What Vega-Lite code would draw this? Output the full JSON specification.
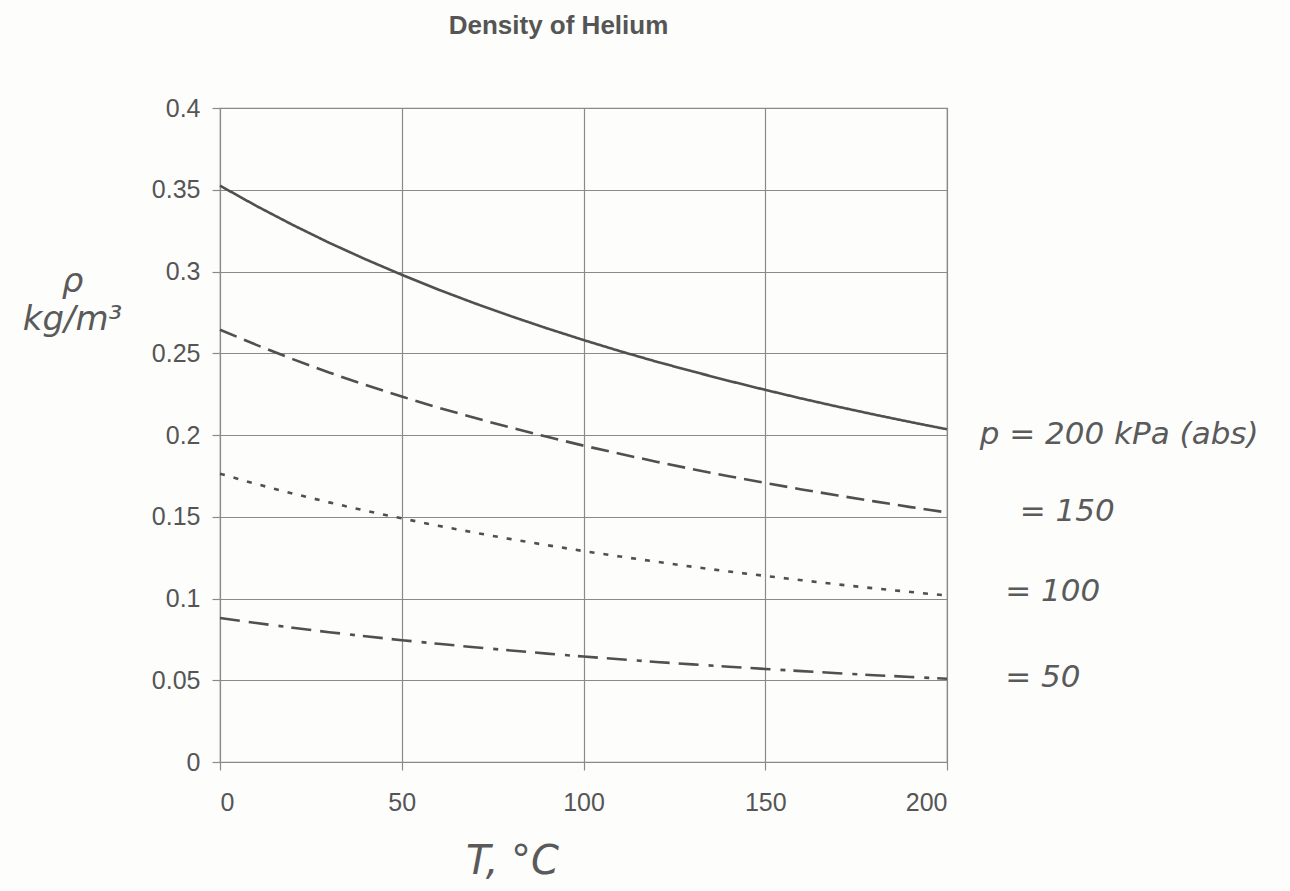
{
  "$schema": "https://vega.github.io/schema/vega-lite/v6.json",
  "autosize": "none",
  "width": 727,
  "height": 654,
  "padding": {"left": 220, "top": 108, "right": 343, "bottom": 129},
  "background": "#fdfdfc",
  "title": {
    "text": "Density of Helium",
    "font": "Liberation Sans",
    "fontSize": 26,
    "fontWeight": "bold",
    "color": "#555555",
    "anchor": "middle",
    "dx": -25,
    "offset": 57
  },
  "config": {
    "view": {"stroke": "#8a8a8a", "strokeWidth": 1.2},
    "axis": {
      "labelFont": "Liberation Sans",
      "labelFontSize": 25,
      "labelColor": "#555555",
      "gridColor": "#8a8a8a",
      "gridOpacity": 1,
      "gridWidth": 1.2,
      "tickColor": "#8a8a8a",
      "tickWidth": 1.2,
      "tickSize": 8,
      "domain": false,
      "titleFont": "DejaVu Sans",
      "titleFontStyle": "italic",
      "titleFontWeight": "normal",
      "titleColor": "#5a5a5a"
    }
  },
  "datasets": {
    "curves": [
      {"T": 0, "rho": 0.3525, "p": "200"}, {"T": 10, "rho": 0.3401, "p": "200"}, {"T": 20, "rho": 0.3285, "p": "200"}, {"T": 30, "rho": 0.3176, "p": "200"}, {"T": 40, "rho": 0.3075, "p": "200"}, {"T": 50, "rho": 0.2980, "p": "200"}, {"T": 60, "rho": 0.2890, "p": "200"}, {"T": 70, "rho": 0.2806, "p": "200"}, {"T": 80, "rho": 0.2727, "p": "200"}, {"T": 90, "rho": 0.2652, "p": "200"}, {"T": 100, "rho": 0.2581, "p": "200"}, {"T": 110, "rho": 0.2513, "p": "200"}, {"T": 120, "rho": 0.2449, "p": "200"}, {"T": 130, "rho": 0.2389, "p": "200"}, {"T": 140, "rho": 0.2331, "p": "200"}, {"T": 150, "rho": 0.2276, "p": "200"}, {"T": 160, "rho": 0.2223, "p": "200"}, {"T": 170, "rho": 0.2173, "p": "200"}, {"T": 180, "rho": 0.2125, "p": "200"}, {"T": 190, "rho": 0.2079, "p": "200"}, {"T": 200, "rho": 0.2035, "p": "200"},
      {"T": 0, "rho": 0.2644, "p": "150"}, {"T": 10, "rho": 0.2551, "p": "150"}, {"T": 20, "rho": 0.2464, "p": "150"}, {"T": 30, "rho": 0.2382, "p": "150"}, {"T": 40, "rho": 0.2306, "p": "150"}, {"T": 50, "rho": 0.2235, "p": "150"}, {"T": 60, "rho": 0.2168, "p": "150"}, {"T": 70, "rho": 0.2105, "p": "150"}, {"T": 80, "rho": 0.2045, "p": "150"}, {"T": 90, "rho": 0.1989, "p": "150"}, {"T": 100, "rho": 0.1935, "p": "150"}, {"T": 110, "rho": 0.1885, "p": "150"}, {"T": 120, "rho": 0.1837, "p": "150"}, {"T": 130, "rho": 0.1791, "p": "150"}, {"T": 140, "rho": 0.1748, "p": "150"}, {"T": 150, "rho": 0.1707, "p": "150"}, {"T": 160, "rho": 0.1667, "p": "150"}, {"T": 170, "rho": 0.1630, "p": "150"}, {"T": 180, "rho": 0.1594, "p": "150"}, {"T": 190, "rho": 0.1559, "p": "150"}, {"T": 200, "rho": 0.1526, "p": "150"},
      {"T": 0, "rho": 0.1763, "p": "100"}, {"T": 10, "rho": 0.1700, "p": "100"}, {"T": 20, "rho": 0.1642, "p": "100"}, {"T": 30, "rho": 0.1588, "p": "100"}, {"T": 40, "rho": 0.1537, "p": "100"}, {"T": 50, "rho": 0.1490, "p": "100"}, {"T": 60, "rho": 0.1445, "p": "100"}, {"T": 70, "rho": 0.1403, "p": "100"}, {"T": 80, "rho": 0.1363, "p": "100"}, {"T": 90, "rho": 0.1326, "p": "100"}, {"T": 100, "rho": 0.1290, "p": "100"}, {"T": 110, "rho": 0.1257, "p": "100"}, {"T": 120, "rho": 0.1225, "p": "100"}, {"T": 130, "rho": 0.1194, "p": "100"}, {"T": 140, "rho": 0.1165, "p": "100"}, {"T": 150, "rho": 0.1138, "p": "100"}, {"T": 160, "rho": 0.1112, "p": "100"}, {"T": 170, "rho": 0.1086, "p": "100"}, {"T": 180, "rho": 0.1062, "p": "100"}, {"T": 190, "rho": 0.1040, "p": "100"}, {"T": 200, "rho": 0.1018, "p": "100"},
      {"T": 0, "rho": 0.0881, "p": "50"}, {"T": 10, "rho": 0.0850, "p": "50"}, {"T": 20, "rho": 0.0821, "p": "50"}, {"T": 30, "rho": 0.0794, "p": "50"}, {"T": 40, "rho": 0.0769, "p": "50"}, {"T": 50, "rho": 0.0745, "p": "50"}, {"T": 60, "rho": 0.0723, "p": "50"}, {"T": 70, "rho": 0.0702, "p": "50"}, {"T": 80, "rho": 0.0682, "p": "50"}, {"T": 90, "rho": 0.0663, "p": "50"}, {"T": 100, "rho": 0.0645, "p": "50"}, {"T": 110, "rho": 0.0628, "p": "50"}, {"T": 120, "rho": 0.0612, "p": "50"}, {"T": 130, "rho": 0.0597, "p": "50"}, {"T": 140, "rho": 0.0583, "p": "50"}, {"T": 150, "rho": 0.0569, "p": "50"}, {"T": 160, "rho": 0.0556, "p": "50"}, {"T": 170, "rho": 0.0543, "p": "50"}, {"T": 180, "rho": 0.0531, "p": "50"}, {"T": 190, "rho": 0.0520, "p": "50"}, {"T": 200, "rho": 0.0509, "p": "50"}
    ],
    "notes": [
      {"T": 209, "rho": 0.2, "label": "p = 200 kPa (abs)"},
      {"T": 220, "rho": 0.153, "label": "= 150"},
      {"T": 216, "rho": 0.104, "label": "= 100"},
      {"T": 216, "rho": 0.0514, "label": "= 50"}
    ]
  },
  "layer": [
    {
      "data": {"name": "curves"},
      "mark": {"type": "line", "color": "#505050", "strokeWidth": 2.6, "strokeCap": "butt"},
      "encoding": {
        "x": {
          "field": "T", "type": "quantitative",
          "scale": {"domain": [0, 200], "nice": false, "zero": false},
          "axis": {
            "values": [0, 50, 100, 150, 200],
            "labelPadding": 20,
            "title": "T, °C",
            "titleFontSize": 40,
            "titleX": 292,
            "titleY": 79,
            "titleAlign": "center",
            "titleBaseline": "top"
          }
        },
        "y": {
          "field": "rho", "type": "quantitative",
          "scale": {"domain": [0, 0.4], "nice": false, "zero": false},
          "axis": {
            "values": [0, 0.05, 0.1, 0.15, 0.2, 0.25, 0.3, 0.35, 0.4],
            "labelPadding": 12,
            "format": ".2~f",
            "title": ["ρ", "kg/m³"],
            "titleFontSize": 34,
            "titleAngle": 0,
            "titleAlign": "center",
            "titleBaseline": "top",
            "titleLineHeight": 38,
            "titleX": -148,
            "titleY": 156
          }
        },
        "strokeDash": {
          "field": "p", "type": "nominal",
          "scale": {"domain": ["200", "150", "100", "50"], "range": [[1, 0], [18, 8], [5, 9], [20, 9, 20, 10, 5, 8]]},
          "legend": null
        }
      }
    },
    {
      "data": {"name": "notes"},
      "mark": {"type": "text", "align": "left", "baseline": "middle", "font": "DejaVu Sans", "fontStyle": "italic", "fontSize": 31, "color": "#5a5a5a"},
      "encoding": {
        "x": {"field": "T", "type": "quantitative"},
        "y": {"field": "rho", "type": "quantitative"},
        "text": {"field": "label"}
      }
    }
  ]
}
